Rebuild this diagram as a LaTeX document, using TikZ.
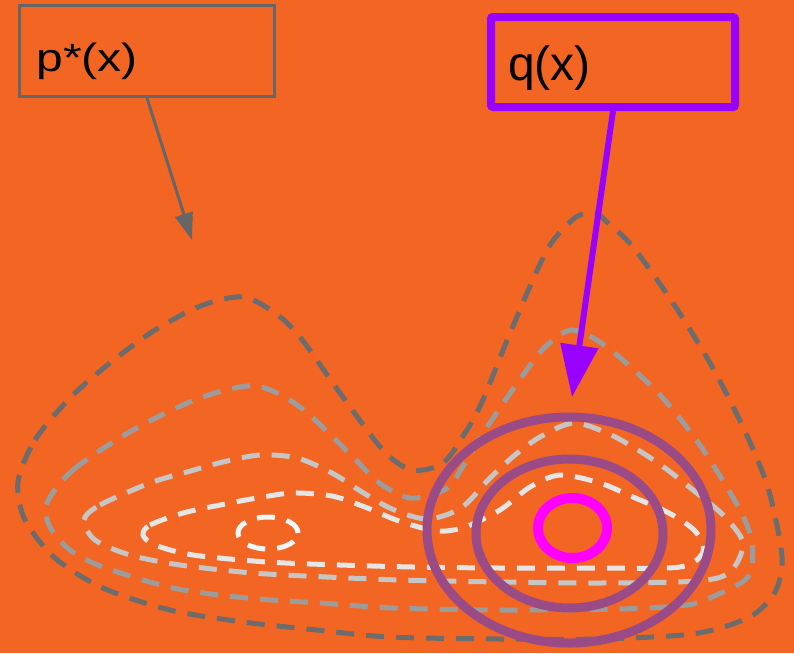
\documentclass[tikz,border=0pt]{standalone}
\usepackage{fontspec}
\setmainfont{Liberation Sans}
\usetikzlibrary{arrows.meta}
\definecolor{Orange}{HTML}{F36523}
\definecolor{BoxGray}{HTML}{666666}
\definecolor{Violet}{HTML}{9900FF}
\definecolor{RingPurple}{HTML}{9A4B85}
\definecolor{Magenta}{HTML}{FF00FF}
\definecolor{LevelA}{HTML}{6C6C6C}
\definecolor{LevelB}{HTML}{9C9C9C}
\definecolor{LevelC}{HTML}{C6C6C6}
\definecolor{LevelD}{HTML}{E6E6E6}
\definecolor{LevelE}{HTML}{F6F6F6}

\begin{document}
\begin{tikzpicture}[x=1pt,y=-1pt]
    \tikzset{
      box/.style={draw,rectangle,align=left,inner xsep=17pt,inner ysep=0pt,
        font=\fontsize{48}{48}\selectfont},
      pbox/.style={box,BoxGray,text=black,line width=3pt,
        text width=221pt,minimum height=91pt},
      qbox/.style={box,Violet,text=black,line width=8pt,rounded corners=2pt,
        text width=210pt,minimum height=90pt},
      level/.style={dash pattern=on 18pt off 12pt,line width=5pt},
      ring/.style={RingPurple,line width=9pt}
    }
    \fill[Orange] (0,0) rectangle (794,653);
    % contour lines of p*(x)
    \draw[level,LevelA] plot[smooth cycle] coordinates {
      (18,482) (35,440) (70,398) (110,363) (155,330) (203,305) (243,297)
      (275,313) (300,337) (340,393) (383,450) (412,470) (443,463) (465,433)
      (482,402) (508,338) (535,275) (552,242) (576,217) (595,213) (607,222)
      (633,247) (673,303) (710,363) (743,427) (768,488) (782,557) (775,592)
      (753,615) (720,628) (683,635) (600,639) (500,639) (390,637) (317,630)
      (243,622) (170,610) (103,588) (55,558) (25,520)};
    \draw[level,LevelB] plot[smooth cycle] coordinates {
      (47,503) (73,470) (133,430) (200,398) (255,386) (300,407) (353,457)
      (378,482) (410,498) (446,489) (465,463) (484,432) (502,405) (523,375)
      (545,347) (572,330) (607,347) (660,395) (702,448) (740,510) (752,543)
      (748,577) (712,597) (687,605) (620,609) (500,610) (393,608) (320,603)
      (247,598) (173,588) (103,567) (70,550) (50,527)};
    \draw[level,LevelC] plot[smooth cycle] coordinates {
      (84,520) (100,505) (150,483) (187,472) (223,462) (260,455) (297,458)
      (332,473) (362,492) (392,509) (427,519) (461,508) (490,478) (515,455)
      (540,437) (573,423) (607,433) (638,450) (665,468) (693,490) (723,515)
      (743,543) (730,572) (697,581) (600,583) (500,582) (400,580) (327,577)
      (253,573) (180,565) (130,555) (95,540)};
    \draw[level,LevelD] plot[smooth cycle] coordinates {
      (143,535) (150,525) (183,513) (220,505) (257,498) (293,493) (332,496)
      (365,507) (399,521) (437,531) (465,527) (500,510) (530,487) (560,475)
      (600,483) (633,497) (669,513) (695,531) (703,552) (680,567) (600,568)
      (500,568) (413,567) (340,565) (267,562) (193,555) (155,545)};
    \draw[level,LevelE] (268,533) ellipse [x radius=30pt,y radius=16pt];
    % q(x)
    \draw[ring] (569,530) ellipse [x radius=142pt,y radius=113pt];
    \draw[ring] (569.5,533.5) ellipse [x radius=93.5pt,y radius=74.5pt];
    \draw[Magenta,line width=10pt] (572.5,528) ellipse [x radius=34.5pt,y radius=30pt];
    % labels
    \node[pbox] (pstar) at (147,51) {\raisebox{-20pt}[0pt][0pt]{\scalebox{1}[0.82]{p*(x)}}};
    \node[qbox] (q) at (613,62) {\raisebox{-18pt}[0pt][0pt]{q(x)}};
    \coordinate (ptip) at (192,240);
    \coordinate (qtip) at (572,397);
    \draw[BoxGray,line width=3pt,-{Triangle[length=27pt,width=18pt]}] (pstar.south) -- (ptip);
    \draw[Violet,line width=6pt,-{Triangle[length=52pt,width=37pt]}] (q.south) -- (qtip);
\end{tikzpicture}
\end{document}
